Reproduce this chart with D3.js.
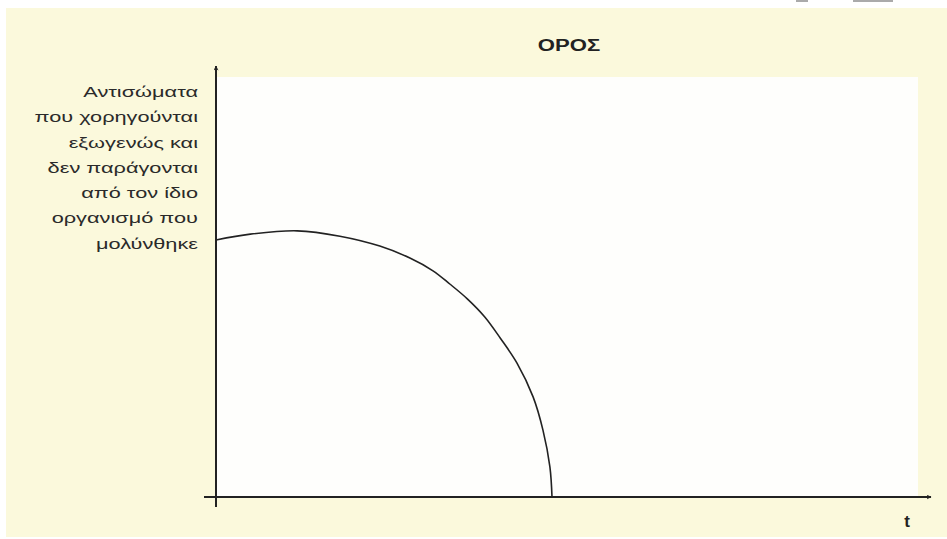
<!DOCTYPE html>
<html>
<head>
<meta charset="utf-8">
<script src="https://cdn.jsdelivr.net/npm/d3@7"></script>
<style>
  body { margin: 0; background: #ffffff; }
  svg { display: block; }
</style>
</head>
<body>
<div id="chart"></div>
<script>
// values (t and serum antibody level, arbitrary units 0-100)
var tValues = [0, 4.9, 11.6, 17.7, 23.4, 27.7, 31.0, 33.4, 35.9, 38.4, 40.6, 43.0, 45.3, 46.7, 47.7, 48.0];
var levelValues = [62.4, 63.8, 64.6, 63.3, 60.9, 58.0, 54.9, 51.7, 48.1, 43.7, 38.6, 32.5, 24.3, 16.3, 7.3, 0];
var titleText = "ΟΡΟΣ";
var xLabel = "t";
var yLabelLines = ["Αντισώματα", "που χορηγούνται", "εξωγενώς και", "δεν παράγονται", "από τον ίδιο", "οργανισμό που", "μολύνθηκε"];

var W = 947, H = 539;
var svg = d3.select("#chart").append("svg")
    .attr("width", W)
    .attr("height", H);

// cream panel
svg.append("rect")
    .attr("x", 6).attr("y", 8)
    .attr("width", W - 6).attr("height", 529)
    .attr("fill", "#fbf9dc");

// small grey leftovers at the top edge
svg.append("rect").attr("x", 796).attr("y", 0).attr("width", 12).attr("height", 2).attr("fill", "#aaa");
svg.append("rect").attr("x", 853).attr("y", 0).attr("width", 40).attr("height", 2).attr("fill", "#aaa");

var x = d3.scaleLinear().domain([0, 100]).range([216, 916]);
var y = d3.scaleLinear().domain([0, 100]).range([497, 85]);

// white plotting area
svg.append("rect")
    .attr("x", x(0) + 1)
    .attr("y", 77)
    .attr("width", 918 - x(0) - 1)
    .attr("height", y(0) - 77)
    .attr("fill", "#fefefc");

var defs = svg.append("defs");
defs.append("marker")
    .attr("id", "arrow")
    .attr("viewBox", "0 0 10 10")
    .attr("refX", 9).attr("refY", 5)
    .attr("markerWidth", 5).attr("markerHeight", 5)
    .attr("markerUnits", "userSpaceOnUse")
    .attr("orient", "auto")
    .append("path")
    .attr("d", "M0,0 L10,5 L0,10 L3,5 Z")
    .attr("fill", "#222");

// axes
svg.append("line")
    .attr("x1", x(0)).attr("x2", x(0))
    .attr("y1", y(0) + 10).attr("y2", 66)
    .attr("stroke", "#222").attr("stroke-width", 2)
    .attr("marker-end", "url(#arrow)");

svg.append("line")
    .attr("x1", x(0) - 12).attr("x2", 931)
    .attr("y1", y(0)).attr("y2", y(0))
    .attr("stroke", "#222").attr("stroke-width", 2)
    .attr("marker-end", "url(#arrow)");

// curve
var line = d3.line()
    .x(function(d, i) { return x(tValues[i]); })
    .y(function(d) { return y(d); })
    .curve(d3.curveCatmullRom.alpha(0.5));

svg.append("path")
    .datum(levelValues)
    .attr("d", line)
    .attr("fill", "none")
    .attr("stroke", "#222")
    .attr("stroke-width", 1.6);

// title
svg.append("text")
    .attr("transform", "translate(569,51) scale(1.3,1)")
    .attr("text-anchor", "middle")
    .attr("font-family", "Liberation Sans, Arial, sans-serif")
    .attr("font-weight", "bold")
    .attr("font-size", 17)
    .attr("fill", "#222")
    .text(titleText);

// x label
svg.append("text")
    .attr("x", 907).attr("y", 527)
    .attr("text-anchor", "middle")
    .attr("font-family", "Liberation Sans, Arial, sans-serif")
    .attr("font-weight", "bold")
    .attr("font-size", 17)
    .attr("fill", "#222")
    .text(xLabel);

// y label, right aligned next to the axis, stretched like the original
var yl = svg.append("g")
    .attr("transform", "translate(198,0) scale(1.45,1)");

yl.selectAll("text")
    .data(yLabelLines)
    .enter().append("text")
    .attr("x", 0)
    .attr("y", function(d, i) { return 97 + i * 25.3; })
    .attr("text-anchor", "end")
    .attr("font-family", "Liberation Sans, Arial, sans-serif")
    .attr("font-size", 15)
    .attr("fill", "#2a2a2a")
    .text(function(d) { return d; });
</script>
</body>
</html>
